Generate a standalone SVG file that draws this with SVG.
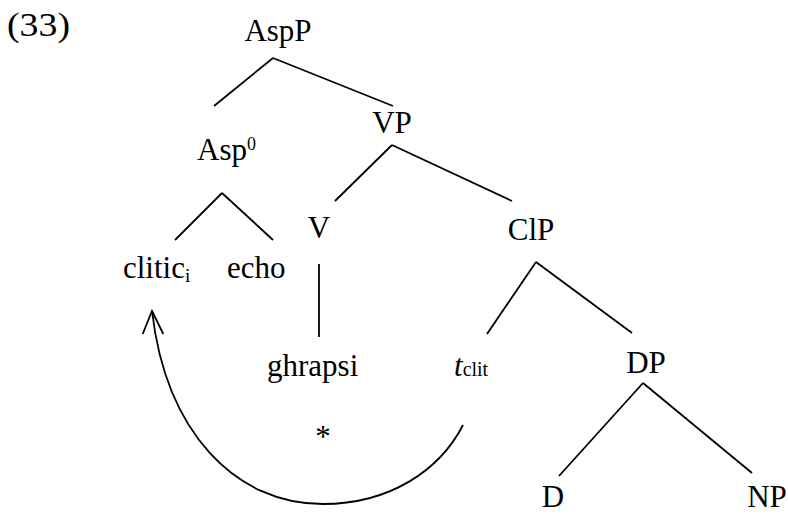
<svg xmlns="http://www.w3.org/2000/svg" width="788" height="515" viewBox="0 0 788 515">
<style>
text{font-family:"Liberation Serif","Times New Roman",serif;font-size:31px;fill:#000}
.m{text-anchor:middle}
.sm{font-size:19px}
line,path,polyline{stroke:#000;stroke-width:1.8;fill:none}
</style>
<rect width="788" height="515" fill="#fff"/>
<text x="7" y="36" style="font-size:33px" textLength="63" lengthAdjust="spacingAndGlyphs">(33)</text>
<g id="connectors">
<line x1="273" y1="58" x2="214" y2="106"/>
<line x1="273" y1="58" x2="393" y2="106"/>
<line x1="392" y1="145" x2="335" y2="201"/>
<line x1="392" y1="145" x2="512" y2="201"/>
<line x1="222" y1="193" x2="175" y2="240"/>
<line x1="222" y1="193" x2="273" y2="240"/>
<line x1="319" y1="264" x2="319" y2="337"/>
<line x1="536" y1="262" x2="487" y2="334"/>
<line x1="536" y1="262" x2="632" y2="333"/>
<line x1="643" y1="383" x2="559" y2="476"/>
<line x1="643" y1="383" x2="752" y2="473"/>
<path d="M463,425 C440,470 390,504 323,504 C235,504 166,432 152,311"/>
<polyline points="142.7,334 152,311 163.3,334"/>
</g>
<g id="AspP"><text class="m" x="278" y="41">AspP</text></g>
<g id="Asp0"><text x="197" y="160">Asp<tspan style="font-size:18px" dy="-10">0</tspan></text></g>
<g id="VP"><text class="m" x="392" y="133">VP</text></g>
<g id="V"><text class="m" x="319" y="238">V</text></g>
<g id="ClP"><text class="m" x="531" y="240">ClP</text></g>
<g id="clitic"><text x="123" y="278">clitic<tspan class="sm" dy="4">i</tspan></text></g>
<g id="echo"><text x="227" y="278">echo</text></g>
<g id="ghrapsi"><text x="267" y="376">ghrapsi</text></g>
<g id="tclit"><text x="454" y="376"><tspan font-style="italic">t</tspan><tspan style="font-size:20px">clit</tspan></text></g>
<g id="DP"><text class="m" x="646" y="373">DP</text></g>
<g id="D"><text class="m" x="553" y="507">D</text></g>
<g id="NP"><text class="m" x="767" y="507">NP</text></g>
<g id="star"><text class="m" x="323" y="447">*</text></g>
</svg>
